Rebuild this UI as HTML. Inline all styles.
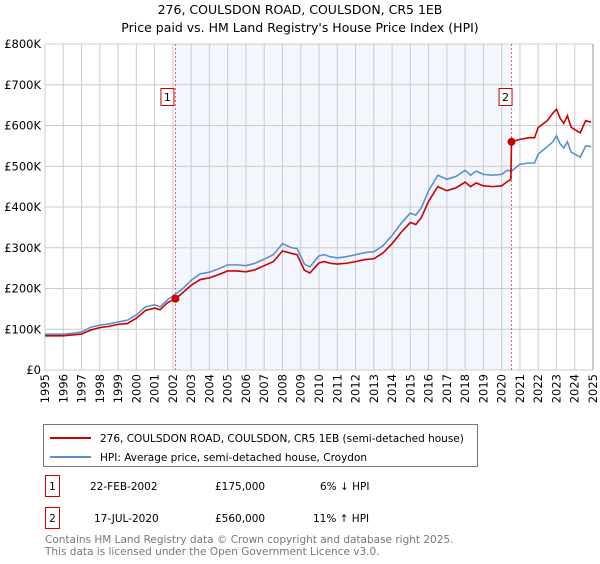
<!DOCTYPE html>
<html><head><meta charset="utf-8"><style>
body{margin:0;background:#fff;font-family:"DejaVu Sans","Liberation Sans",sans-serif;}
svg text{font-family:"DejaVu Sans","Liberation Sans",sans-serif;}
</style></head><body>
<svg id="chart" width="600" height="560" viewBox="0 0 600 560" xmlns="http://www.w3.org/2000/svg">
<text x="300" y="14" text-anchor="middle" font-size="12.5" fill="#000">276, COULSDON ROAD, COULSDON, CR5 1EB</text>
<text x="300" y="32" text-anchor="middle" font-size="12.5" fill="#000">Price paid vs. HM Land Registry's House Price Index (HPI)</text>
<g id="grid"></g><g id="series"></g><g id="axes"></g>
<g>
<rect x="43.5" y="424.5" width="434" height="42" fill="#fff" stroke="#777"/>
<line x1="50" y1="438" x2="91" y2="438" stroke="#cc0000" stroke-width="2"/>
<text x="100" y="442" font-size="10.5">276, COULSDON ROAD, COULSDON, CR5 1EB (semi-detached house)</text>
<line x1="50" y1="457" x2="91" y2="457" stroke="#5b8fd0" stroke-width="2"/>
<text x="100" y="461" font-size="10.5">HPI: Average price, semi-detached house, Croydon</text>
</g>
<g font-size="10.5">
<rect x="45.5" y="475.5" width="14" height="21" fill="#fff" stroke="#cc0000"/>
<text x="52.5" y="490" text-anchor="middle">1</text>
<text x="90" y="490">22-FEB-2002</text><text x="215" y="490">£175,000</text><text x="320" y="490">6% ↓ HPI</text>
<rect x="45.5" y="507.5" width="14" height="21" fill="#fff" stroke="#cc0000"/>
<text x="52.5" y="522" text-anchor="middle">2</text>
<text x="94" y="522">17-JUL-2020</text><text x="215" y="522">£560,000</text><text x="313" y="522">11% ↑ HPI</text>
</g>
<text x="45" y="543" font-size="10.5" fill="#777">Contains HM Land Registry data © Crown copyright and database right 2025.</text>
<text x="45" y="555" font-size="10.5" fill="#777">This data is licensed under the Open Government Licence v3.0.</text>
</svg>
<script>
const hpiYears=[1995,1996,1996.5,1997,1997.5,1998,1998.5,1999,1999.5,2000,2000.5,2001,2001.3,2001.7,2002,2002.5,2003,2003.5,2004,2004.5,2005,2005.5,2006,2006.5,2007,2007.5,2008,2008.5,2008.8,2009.2,2009.5,2010,2010.3,2010.6,2011,2011.5,2012,2012.5,2013,2013.5,2014,2014.5,2015,2015.3,2015.6,2016,2016.5,2017,2017.5,2018,2018.3,2018.6,2019,2019.5,2020,2020.3,2020.54,2021,2021.5,2021.8,2022,2022.5,2022.8,2023,2023.2,2023.4,2023.6,2023.8,2024,2024.3,2024.6,2024.9];
const hpiValues=[88,88,90,93,105,110,113,118,122,135,155,160,155,172,182,198,220,236,240,248,258,258,256,262,272,283,310,300,298,260,253,280,283,278,275,278,283,288,290,305,330,360,385,380,398,440,478,468,475,490,478,488,480,478,480,490,488,505,508,508,530,548,560,575,555,545,560,535,530,522,550,548];
const propYears=[1995,1996,1996.5,1997,1997.5,1998,1998.5,1999,1999.5,2000,2000.5,2001,2001.3,2001.7,2002.14,2002.5,2003,2003.5,2004,2004.5,2005,2005.5,2006,2006.5,2007,2007.5,2008,2008.5,2008.8,2009.2,2009.5,2010,2010.3,2010.6,2011,2011.5,2012,2012.5,2013,2013.5,2014,2014.5,2015,2015.3,2015.6,2016,2016.5,2017,2017.5,2018,2018.3,2018.6,2019,2019.5,2020,2020.3,2020.5,2020.54,2021,2021.5,2021.8,2022,2022.5,2022.8,2023,2023.2,2023.4,2023.6,2023.8,2024,2024.3,2024.6,2024.9];
const propValues=[84,84,86,88,98,104,107,112,114,127,146,152,148,165,175,188,208,222,226,234,243,243,241,246,256,266,292,286,283,245,238,263,266,262,260,262,266,271,273,287,310,338,362,357,374,414,450,440,447,461,450,459,452,450,452,462,468,560,566,570,570,595,612,630,640,618,605,624,596,590,582,612,608];
const saleYears=[2002.14,2020.54];
const saleValues=[175,560];
const yTicks=[0,100,200,300,400,500,600,700,800];
const yTickLabels=["£0","£100K","£200K","£300K","£400K","£500K","£600K","£700K","£800K"];
const xTicks=[1995,1996,1997,1998,1999,2000,2001,2002,2003,2004,2005,2006,2007,2008,2009,2010,2011,2012,2013,2014,2015,2016,2017,2018,2019,2020,2021,2022,2023,2024,2025];
const L=45,R=593,T=44,B=370;
const x=v=>L+(v-1995)/30*(R-L);
const y=v=>B-v/800*(B-T);
const NS="http://www.w3.org/2000/svg";
function mk(tag,parent,attrs){const e=document.createElementNS(NS,tag);for(const k in attrs)e.setAttribute(k,attrs[k]);parent.appendChild(e);return e;}
const grid=document.getElementById('grid'),ser=document.getElementById('series'),ax=document.getElementById('axes');
const shade=mk('rect',grid,{x:x(saleYears[0]),y:T,width:x(saleYears[1])-x(saleYears[0]),height:B-T,fill:'#f3f6fd'});


yTicks.forEach((t,i)=>{
  const g=mk('line',grid,{x1:L,x2:R,y1:y(t),y2:y(t),stroke:'#cccccc','stroke-width':1});
  
  
  const tx=mk('text',ax,{x:L-4,y:y(t)+4,'text-anchor':'end','font-size':11.5,fill:'#000'});
  tx.textContent=yTickLabels[i];
  
  
});
xTicks.forEach(t=>{
  const g=mk('line',grid,{x1:x(t),x2:x(t),y1:T,y2:B,stroke:'#cccccc','stroke-width':1});
  
  
  const tx=mk('text',ax,{x:0,y:0,'text-anchor':'end','font-size':11.5,fill:'#000',transform:`translate(${x(t)+4},${B+4}) rotate(-90)`});
  tx.textContent=t;
  
  
});
saleYears.forEach((s,i)=>{
  const l=mk('line',grid,{x1:x(s),x2:x(s),y1:T,y2:B,stroke:'#e06060','stroke-width':1,'stroke-dasharray':'2,2'});
  
  
  const bx=x(s)-(i==0?3:1)-12;
  const r=mk('rect',ax,{x:bx+0.5,y:88.5,width:13,height:17,fill:'#fff',stroke:'#cc0000'});
  
  
  const t=mk('text',ax,{x:bx+7,y:101,'text-anchor':'middle','font-size':11});
  t.textContent=String(i+1);
  
  
});
const hp=mk('polyline',ser,{points:hpiYears.map((v,i)=>x(v)+','+y(hpiValues[i])).join(' '),fill:'none',stroke:'#5b8fd0','stroke-width':1.6});


const pp=mk('polyline',ser,{points:propYears.map((v,i)=>x(v)+','+y(propValues[i])).join(' '),fill:'none',stroke:'#cc0000','stroke-width':1.6});


saleYears.forEach((s,i)=>{
  const c=mk('circle',ser,{cx:x(s),cy:y(saleValues[i]),r:4,fill:'#cc0000'});
  
  
});
const fr=mk('line',ax,{x1:R,x2:R,y1:T,y2:B,stroke:'#999'});


</script>
</body></html>
